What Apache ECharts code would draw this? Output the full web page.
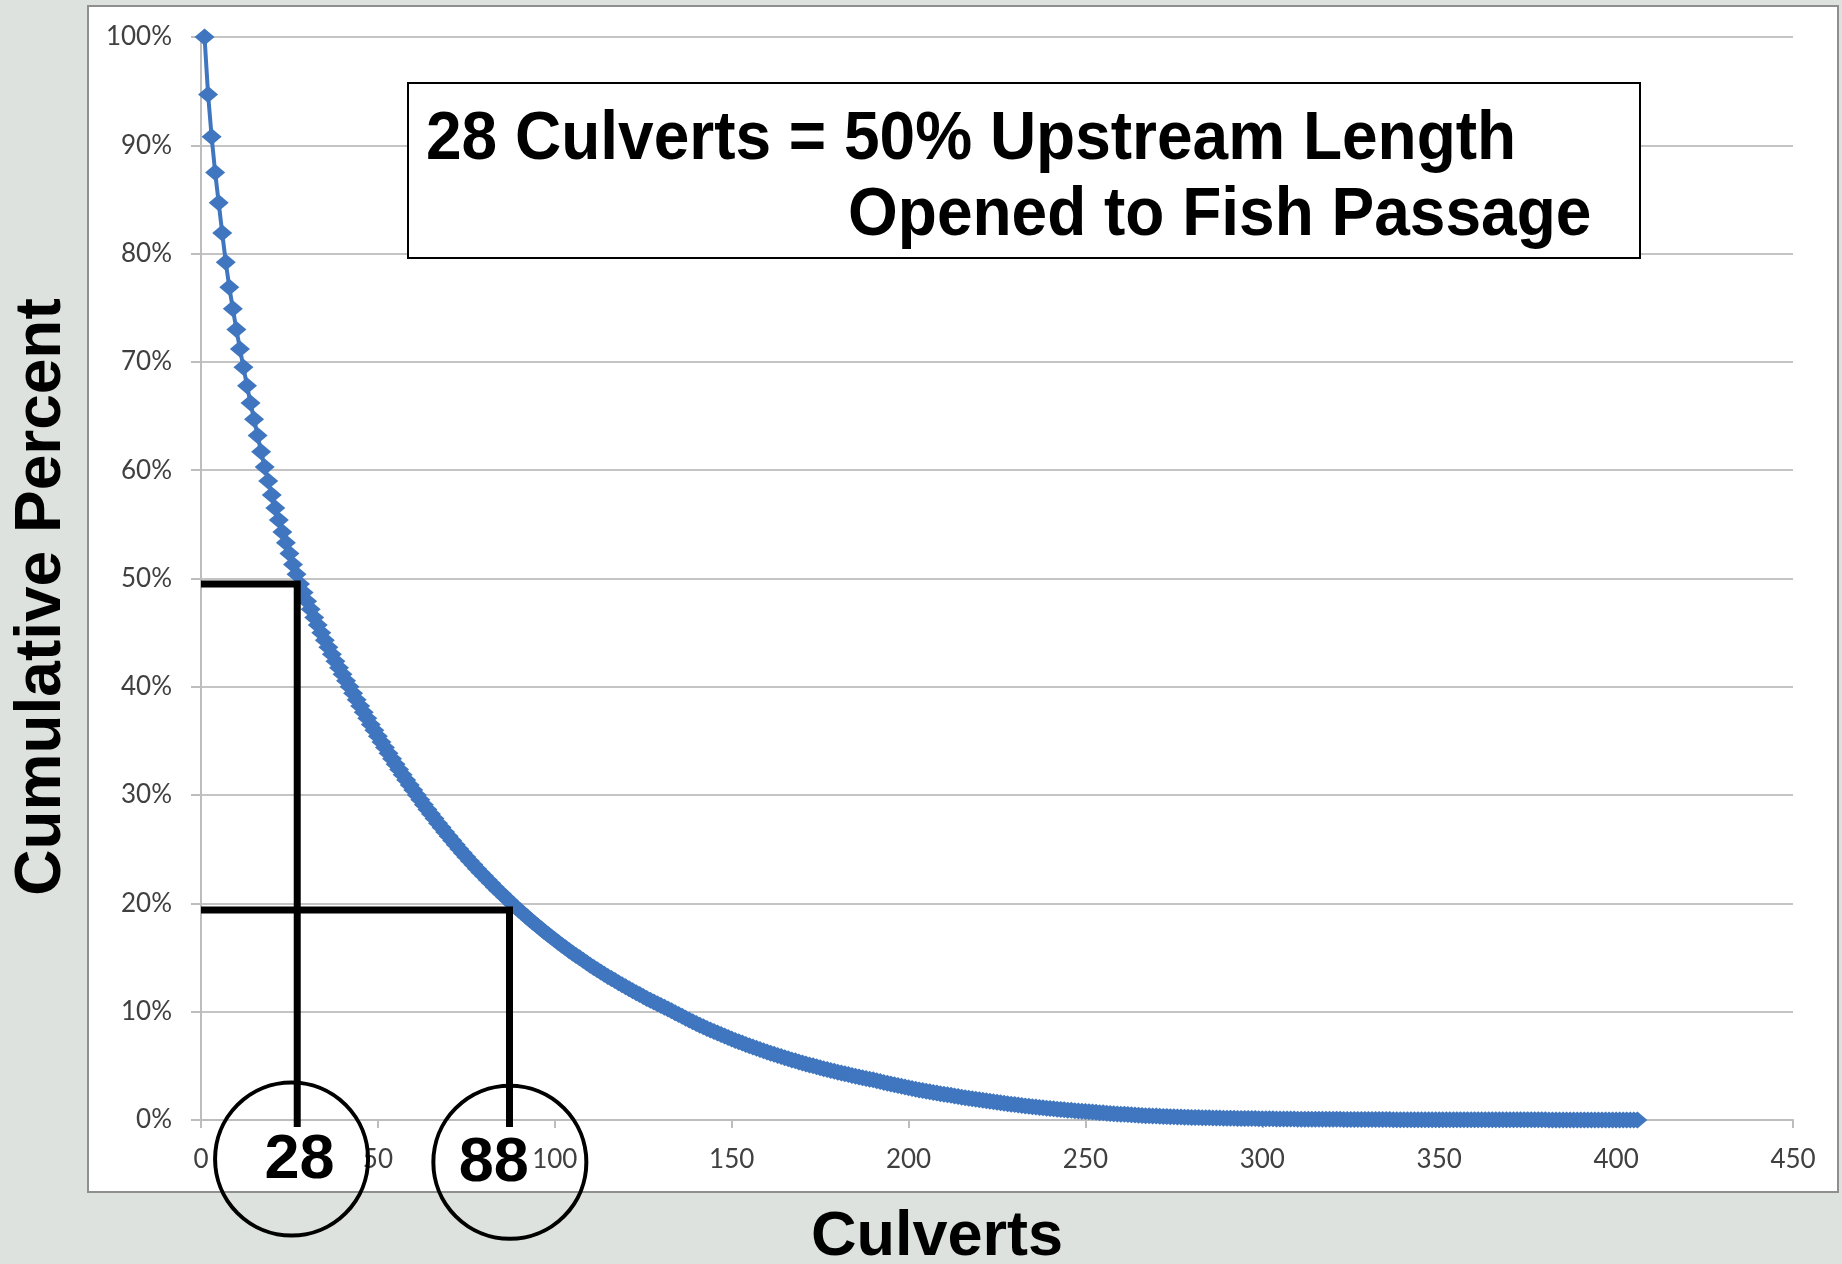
<!DOCTYPE html>
<html>
<head>
<meta charset="utf-8">
<script src="https://cdn.jsdelivr.net/npm/echarts@6/dist/echarts.min.js"></script>
<style>
  html, body { margin: 0; padding: 0; background: #dde2df; }
  #chart { width: 1842px; height: 1264px; }
</style>
</head>
<body>
<div id="chart"></div>
<script>
// cumulative percent of upstream length, culvert rank 1..406
const percentRemaining = [
  100, 94.7, 90.8, 87.5, 84.7, 81.9, 79.2, 76.9, 74.9, 73.0,
  71.2, 69.5, 67.8, 66.2, 64.7, 63.2, 61.7, 60.3, 59.0, 57.7,
  56.5, 55.4, 54.3, 53.3, 52.3, 51.3, 50.4, 49.5, 48.7, 47.9,
  47.15, 46.4, 45.7, 45.0, 44.3, 43.65, 43.0, 42.35, 41.75, 41.15,
  40.55, 40.0, 39.4, 38.81, 38.23, 37.65, 37.09, 36.53, 35.98, 35.44,
  34.91, 34.39, 33.87, 33.36, 32.86, 32.37, 31.88, 31.40, 30.93, 30.47,
  30.01, 29.56, 29.12, 28.68, 28.25, 27.83, 27.41, 27.00, 26.59, 26.19,
  25.80, 25.41, 25.03, 24.66, 24.29, 23.92, 23.56, 23.21, 22.86, 22.52,
  22.18, 21.85, 21.52, 21.20, 20.88, 20.57, 20.26, 19.95, 19.65, 19.36,
  19.07, 18.78, 18.50, 18.22, 17.95, 17.68, 17.41, 17.15, 16.89, 16.64,
  16.39, 16.14, 15.90, 15.66, 15.43, 15.20, 14.97, 14.74, 14.52, 14.30,
  14.09, 13.88, 13.67, 13.46, 13.26, 13.06, 12.87, 12.67, 12.48, 12.30,
  12.11, 11.93, 11.75, 11.58, 11.40, 11.23, 11.06, 10.90, 10.73, 10.57,
  10.41, 10.26, 10.08, 9.91, 9.74, 9.57, 9.40, 9.24, 9.08, 8.92,
  8.76, 8.61, 8.46, 8.31, 8.17, 8.03, 7.89, 7.75, 7.62, 7.48,
  7.35, 7.23, 7.10, 6.98, 6.86, 6.74, 6.62, 6.51, 6.39, 6.28,
  6.17, 6.06, 5.96, 5.86, 5.75, 5.65, 5.55, 5.46, 5.36, 5.27,
  5.18, 5.09, 5.00, 4.91, 4.83, 4.74, 4.66, 4.58, 4.50, 4.42,
  4.34, 4.27, 4.19, 4.12, 4.05, 3.98, 3.91, 3.84, 3.77, 3.71,
  3.63, 3.55, 3.47, 3.39, 3.32, 3.25, 3.18, 3.11, 3.04, 2.97,
  2.91, 2.84, 2.78, 2.72, 2.66, 2.60, 2.54, 2.49, 2.43, 2.38,
  2.33, 2.28, 2.22, 2.17, 2.11, 2.06, 2.01, 1.96, 1.91, 1.86,
  1.82, 1.77, 1.73, 1.68, 1.64, 1.59, 1.55, 1.50, 1.46, 1.42,
  1.38, 1.34, 1.30, 1.26, 1.22, 1.19, 1.15, 1.12, 1.09, 1.06,
  1.03, 1.00, 0.97, 0.94, 0.91, 0.89, 0.86, 0.84, 0.81, 0.79,
  0.77, 0.74, 0.71, 0.68, 0.66, 0.63, 0.61, 0.58, 0.56, 0.54,
  0.52, 0.50, 0.48, 0.46, 0.44, 0.42, 0.40, 0.39, 0.37, 0.36,
  0.34, 0.33, 0.32, 0.30, 0.29, 0.28, 0.27, 0.26, 0.25, 0.24,
  0.23, 0.22, 0.21, 0.21, 0.20, 0.19, 0.19, 0.18, 0.17, 0.17,
  0.16, 0.16, 0.15, 0.15, 0.14, 0.14, 0.13, 0.13, 0.12, 0.12,
  0.11, 0.11, 0.11, 0.10, 0.10, 0.10, 0.09, 0.09, 0.09, 0.08,
  0.08, 0.08, 0.08, 0.07, 0.07, 0.07, 0.07, 0.06, 0.06, 0.06,
  0.06, 0.06, 0.05, 0.05, 0.05, 0.05, 0.05, 0.05, 0.04, 0.04,
  0.04, 0.04, 0.04, 0.04, 0.04, 0.04, 0.03, 0.03, 0.03, 0.03,
  0.03, 0.03, 0.03, 0.03, 0.03, 0.03, 0.03, 0.03, 0.03, 0.03,
  0.02, 0.02, 0.02, 0.02, 0.02, 0.02, 0.02, 0.02, 0.02, 0.02,
  0.02, 0.02, 0.02, 0.02, 0.02, 0.02, 0.02, 0.02, 0.02, 0.02,
  0.02, 0.02, 0.02, 0.02, 0.02, 0.02, 0.02, 0.02, 0.02, 0.02,
  0.01, 0.01, 0.01, 0.01, 0.01, 0.01, 0.01, 0.01, 0.01, 0.01,
  0.01, 0.01, 0.01, 0.01, 0.01, 0.01, 0.01, 0.01, 0.01, 0.01,
  0.01, 0.01, 0.01, 0.01, 0.01, 0.01
]

// annotation: the two callouts (label, where the bracket sits, where the circle sits)
const calloutLabels = ['28', '88']
const calloutLineX = [27.2, 87.2]
const calloutLineY = [49.5, 19.4]
const calloutFootY = -0.65
const calloutCircleX = [25.6, 87.3]
const calloutCircleY = [-3.6, -3.9]

const xTicks = { min: 0, max: 450, step: 50 }
const yTicks = { min: 0, max: 100, step: 10 }

const titleText = ['28 Culverts = 50% Upstream Length', 'Opened to Fish Passage']
const xTitle = 'Culverts'
const yTitle = 'Cumulative Percent'

const boldFont = '"Liberation Sans", Arial, sans-serif'
const tickFont = 'Lato, "Open Sans", sans-serif'

const chart = echarts.init(document.getElementById('chart'))

const curve = percentRemaining.map((v, i) => [i + 1, v])

const calloutSeries = calloutLabels.map((lab, k) => ({
  name: 'callout' + lab,
  type: 'line',
  data: [
    [xTicks.min, calloutLineY[k]],
    [calloutLineX[k], calloutLineY[k]],
    [calloutLineX[k], calloutFootY]
  ],
  symbol: 'none',
  clip: false,
  z: 6,
  lineStyle: { color: '#000', width: 7, join: 'miter', cap: 'butt', opacity: 1 },
  silent: true
}))

const labelOffsets = [[8, 2], [-16, 1]]

const option = {
  backgroundColor: '#dde2df',
  animation: false,
  grid: { left: 201, right: 49, top: 37, bottom: 144 },
  xAxis: {
    type: 'value',
    min: xTicks.min,
    max: xTicks.max,
    interval: xTicks.step,
    axisLine: { show: true, lineStyle: { color: '#bdbdbd', width: 2 } },
    axisTick: { show: true, length: 8, lineStyle: { color: '#bdbdbd', width: 2 } },
    splitLine: { show: false },
    axisLabel: { margin: 27, fontSize: 26, fontFamily: tickFont, color: '#404040' }
  },
  yAxis: {
    type: 'value',
    min: yTicks.min,
    max: yTicks.max,
    interval: yTicks.step,
    axisLine: { show: true, lineStyle: { color: '#bdbdbd', width: 2 } },
    axisTick: { show: true, length: 10, lineStyle: { color: '#bdbdbd', width: 2 } },
    splitLine: { show: true, lineStyle: { color: '#c4c4c4', width: 2 } },
    axisLabel: { margin: 29, fontSize: 26, fontFamily: tickFont, color: '#404040', formatter: '{value}%' }
  },
  graphic: [
    {
      type: 'rect', z: -10,
      shape: { x: 88, y: 6, width: 1750, height: 1186 },
      style: { fill: '#ffffff', stroke: '#8f8f8f', lineWidth: 2 }
    },
    {
      type: 'rect', z: 50,
      shape: { x: 408, y: 83, width: 1232, height: 175 },
      style: { fill: '#ffffff', stroke: '#000000', lineWidth: 2 }
    },
    {
      type: 'text', z: 51, x: 426, y: 140, scaleY: 1.08,
      style: { text: titleText[0], font: 'bold 64px ' + boldFont, fill: '#000', align: 'left', verticalAlign: 'middle' }
    },
    {
      type: 'text', z: 51, x: 848, y: 216, scaleY: 1.08,
      style: { text: titleText[1], font: 'bold 64px ' + boldFont, fill: '#000', align: 'left', verticalAlign: 'middle' }
    },
    {
      type: 'text', z: 51, x: 42, y: 597, rotation: Math.PI / 2,
      style: { text: yTitle, font: 'bold 64px ' + boldFont, fill: '#000', align: 'center', verticalAlign: 'middle' }
    },
    {
      type: 'text', z: 51, x: 937, y: 1238,
      style: { text: xTitle, font: 'bold 63px ' + boldFont, fill: '#000', align: 'center', verticalAlign: 'middle' }
    }
  ],
  series: [
    {
      name: 'Cumulative Percent',
      type: 'line',
      data: curve,
      symbol: 'diamond',
      symbolSize: [20, 17],
      showAllSymbol: true,
      z: 3,
      lineStyle: { color: '#3f76bf', width: 4 },
      itemStyle: { color: '#3f76bf' }
    },
    ...calloutSeries,
    {
      name: 'circles',
      type: 'scatter',
      clip: false,
      z: 7,
      symbol: 'circle',
      symbolSize: 153,
      silent: true,
      itemStyle: { color: 'rgba(0,0,0,0)', borderColor: '#000', borderWidth: 4, opacity: 1 },
      data: calloutLabels.map((lab, k) => ({
        name: lab,
        value: [calloutCircleX[k], calloutCircleY[k]],
        label: { offset: labelOffsets[k] }
      })),
      label: {
        show: true,
        position: 'inside',
        formatter: '{b}',
        fontFamily: boldFont,
        fontWeight: 'bold',
        fontSize: 63,
        color: '#000',
        opacity: 1
      }
    }
  ]
}

chart.setOption(option)
</script>
</body>
</html>
